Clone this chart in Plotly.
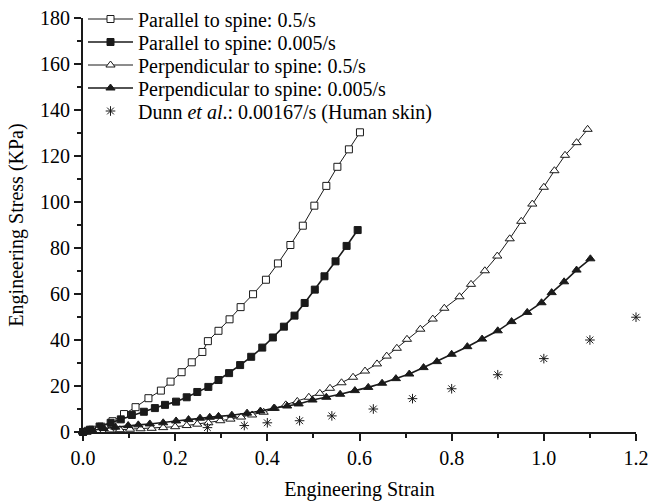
import plotly.graph_objects as go

# Parallel to spine, 0.5/s
par_fast_strain = [0.0, 0.01, 0.02, 0.04, 0.064, 0.089, 0.114, 0.142, 0.169, 0.19, 0.214, 0.236,
                   0.259, 0.271, 0.294, 0.318, 0.342, 0.369, 0.397, 0.423, 0.45, 0.477, 0.502,
                   0.528, 0.552, 0.577, 0.601]
par_fast_stress = [0.0, 0.5, 1.0, 2.3, 4.7, 7.8, 10.8, 14.7, 18.0, 21.9, 26.0, 30.3,
                   34.8, 39.5, 44.0, 49.0, 54.3, 59.9, 66.2, 73.3, 81.3, 89.7, 98.4,
                   107.0, 115.3, 122.9, 130.3]

# Parallel to spine, 0.005/s
par_slow_strain = [0.0, 0.015, 0.036, 0.06, 0.082, 0.106, 0.132, 0.156, 0.178, 0.202, 0.225, 0.248,
                   0.272, 0.294, 0.317, 0.341, 0.365, 0.389, 0.412, 0.436, 0.459, 0.481, 0.503,
                   0.524, 0.548, 0.572, 0.596]
par_slow_stress = [0.0, 1.0, 2.4, 4.0, 5.5, 7.4, 8.8, 10.4, 11.8, 13.2, 15.1, 17.4,
                   19.6, 22.6, 25.6, 29.1, 32.7, 36.7, 41.1, 45.8, 50.6, 56.1, 61.9,
                   67.7, 74.2, 80.9, 87.8]

# Perpendicular to spine, 0.5/s
perp_fast_strain = [0.0, 0.03, 0.058, 0.08, 0.102, 0.125, 0.149, 0.174, 0.2, 0.225, 0.248, 0.272,
                    0.298, 0.32, 0.343, 0.367, 0.392, 0.416, 0.44, 0.465, 0.49, 0.514, 0.536,
                    0.561, 0.586, 0.612, 0.638, 0.659, 0.681, 0.703, 0.732, 0.759, 0.784, 0.817,
                    0.842, 0.872, 0.899, 0.926, 0.951, 0.975, 1.0, 1.023, 1.046, 1.071, 1.095]
perp_fast_stress = [0.0, 0.5, 0.9, 1.0, 1.2, 1.4, 1.6, 1.9, 2.3, 2.8, 3.4, 4.0,
                    4.9, 5.6, 6.5, 7.4, 8.6, 10.3, 11.8, 13.3, 15.1, 16.8, 19.0,
                    21.4, 23.8, 26.5, 29.6, 33.0, 36.4, 40.3, 44.7, 49.1, 53.8, 58.8,
                    64.2, 70.1, 76.5, 84.0, 91.6, 99.1, 106.4, 113.6, 120.3, 125.8, 131.6]

# Perpendicular to spine, 0.005/s
perp_slow_strain = [0.0, 0.02, 0.045, 0.07, 0.098, 0.12, 0.145, 0.174, 0.202, 0.229, 0.254, 0.275,
                    0.294, 0.323, 0.356, 0.385, 0.414, 0.443, 0.468, 0.498, 0.528, 0.558, 0.59,
                    0.619, 0.649, 0.679, 0.708, 0.739, 0.768, 0.8, 0.834, 0.866, 0.9, 0.93,
                    0.964, 0.995, 1.017, 1.044, 1.071, 1.101]
perp_slow_stress = [0.0, 0.8, 1.5, 2.1, 2.8, 3.1, 3.5, 4.0, 4.8, 5.4, 6.0, 6.4,
                    6.8, 7.3, 8.2, 9.1, 10.3, 11.3, 12.2, 13.9, 15.1, 16.4, 18.0,
                    19.4, 21.2, 23.2, 25.2, 28.0, 30.6, 33.8, 37.1, 40.4, 44.0, 48.0,
                    52.0, 56.2, 60.6, 65.3, 70.4, 75.3]

# Dunn et al. human skin, 0.00167/s
dunn_strain = [0.27, 0.35, 0.40, 0.47, 0.54, 0.63, 0.715, 0.80, 0.90, 1.0, 1.1, 1.2]
dunn_stress = [1.9, 2.8, 4.0, 4.9, 7.0, 10.0, 14.5, 18.8, 24.9, 31.9, 40.0, 49.9]

series_names = [
    "Parallel to spine: 0.5/s",
    "Parallel to spine: 0.005/s",
    "Perpendicular to spine: 0.5/s",
    "Perpendicular to spine: 0.005/s",
    "Dunn <i>et al</i>.: 0.00167/s (Human skin)",
]

INK = "#1a1a1a"
FONT = "Liberation Serif, Times New Roman, serif"

fig = go.Figure()

line_series = [
    (par_fast_strain, par_fast_stress, "square", "white", 1.0, 7),
    (par_slow_strain, par_slow_stress, "square", INK, 1.6, 7),
    (perp_fast_strain, perp_fast_stress, "triangle-up", "white", 1.0, 8),
    (perp_slow_strain, perp_slow_stress, "triangle-up", INK, 1.6, 8),
]

for i, (xs, ys, sym, fill, lw, ms) in enumerate(line_series):
    fig.add_trace(go.Scatter(
        x=xs, y=ys, mode="lines+markers", name=series_names[i],
        line=dict(color=INK, width=lw),
        marker=dict(symbol=sym, size=ms, color=fill, line=dict(color=INK, width=1)),
        cliponaxis=False,
        legend="legend" if i == 0 else f"legend{i + 1}",
    ))

fig.add_trace(go.Scatter(
    x=dunn_strain, y=dunn_stress, mode="markers", name=series_names[4],
    marker=dict(symbol="asterisk-open", size=8, color=INK, line=dict(color=INK, width=1)),
    cliponaxis=False,
    legend="legend5",
))

# one single-entry legend per series, stacked in the upper left corner
legend_rows_px = [19, 42, 65, 88, 111]
plot_top, plot_bottom = 18, 432
legend_common = dict(
    x=0.0, xanchor="left", yanchor="middle",
    bgcolor="rgba(0,0,0,0)", borderwidth=0,
    font=dict(family=FONT, size=20, color="black"),
    itemwidth=45,
)
layout_legends = {}
for i, py in enumerate(legend_rows_px):
    key = "legend" if i == 0 else f"legend{i + 1}"
    layout_legends[key] = dict(legend_common, y=(plot_bottom - py) / (plot_bottom - plot_top))

axis_common = dict(
    showgrid=False, zeroline=False, showline=True, linecolor=INK, linewidth=2,
    ticks="outside", ticklen=7, tickwidth=2, tickcolor=INK,
    tickfont=dict(family=FONT, size=20, color="black"),
    ticklabeloverflow="allow", automargin=False,
    mirror=False,
)

fig.update_layout(
    width=648, height=501,
    margin=dict(l=83, r=12, t=18, b=69, autoexpand=False),
    paper_bgcolor="white", plot_bgcolor="white",
    font=dict(family=FONT, size=20, color="black"),
    showlegend=True,
    **layout_legends,
    xaxis=dict(
        axis_common, range=[0, 1.2], tickmode="linear", tick0=0, dtick=0.2, tickformat=".1f",
        minor=dict(dtick=0.1, tick0=0, ticks="outside", ticklen=4, tickwidth=2, tickcolor=INK),
        title=dict(text="Engineering Strain", font=dict(family=FONT, size=20, color="black"), standoff=24),
    ),
    yaxis=dict(
        axis_common, range=[0, 180], tickmode="linear", tick0=0, dtick=20,
        minor=dict(dtick=10, tick0=0, ticks="outside", ticklen=4, tickwidth=2, tickcolor=INK),
        title=dict(text="Engineering Stress (KPa)", font=dict(family=FONT, size=20, color="black"), standoff=11),
    ),
)

fig.write_html("out.html")
